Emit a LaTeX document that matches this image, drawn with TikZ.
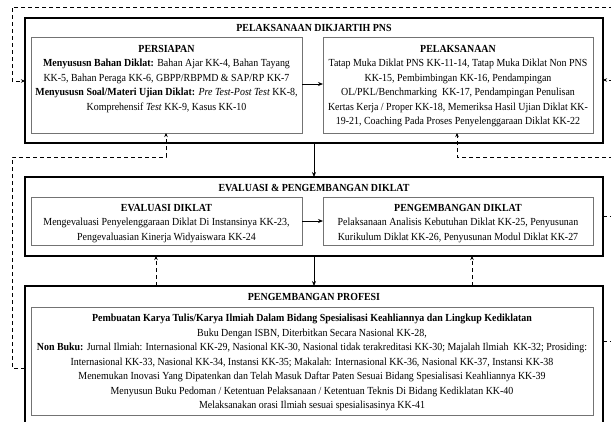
\documentclass[tikz,border=0pt]{standalone}
\usepackage{fontspec}
\setmainfont[FakeStretch=0.92]{Liberation Serif}
\usetikzlibrary{arrows.meta}
\begin{document}
\begin{tikzpicture}[x=1pt,y=-1pt,
  outerbox/.style={draw=black,line width=1.8pt,inner sep=0pt,outer sep=0pt,anchor=north west},
  innerbox/.style={draw=black!55,line width=0.8pt,inner sep=0pt,outer sep=0pt,anchor=north west},
  ttl/.style={font=\fontsize{10.8}{14.5}\selectfont\bfseries,inner sep=0pt,anchor=center},
  txt/.style={font=\fontsize{10.8}{14.5}\selectfont,align=center,inner sep=0pt,anchor=north},
  solidarr/.style={line width=0.8pt,-{Stealth[length=5pt,width=4pt]}},
  dasharr/.style={line width=0.8pt,dash pattern=on 4pt off 3pt,-{Stealth[length=4pt,width=3.5pt]}},
  dashln/.style={line width=0.8pt,dash pattern=on 4pt off 3pt}]
\useasboundingbox (0,0) rectangle (611,421);
\begin{scope}
\clip (0,0) rectangle (611,421);
% boxes
\node[outerbox,minimum width=578pt,minimum height=125pt] (b1) at (25,18) {};
\node[outerbox,minimum width=578pt,minimum height=79pt] (b2) at (25,177) {};
\node[outerbox,minimum width=578pt,minimum height=160pt] (b3) at (25,286) {};
\node[innerbox,minimum width=271pt,minimum height=96pt] (per) at (31,37) {};
\node[innerbox,minimum width=270pt,minimum height=96pt] (pel) at (323,37) {};
\node[innerbox,minimum width=271pt,minimum height=48pt] (eva) at (31,197) {};
\node[innerbox,minimum width=270pt,minimum height=48pt] (pen) at (323,197) {};
\node[innerbox,minimum width=562pt,minimum height=108pt] (pro) at (31,307) {};
% titles
\node[ttl] (t1) at (314,28) {PELAKSANAAN DIKJARTIH PNS};
\node[ttl] (t2) at (314,187.5) {EVALUASI \& PENGEMBANGAN DIKLAT};
\node[ttl] (t3) at (314,297) {PENGEMBANGAN PROFESI};
% texts
\node[txt] (perT) at (166.5,45) {\textbf{PERSIAPAN}\\
\textbf{Menyususn Bahan Diklat:} Bahan Ajar KK-4, Bahan Tayang\\
KK-5, Bahan Peraga KK-6, GBPP/RBPMD \& SAP/RP KK-7\\
\textbf{Menyususn Soal/Materi Ujian Diklat:} \textit{Pre Test-Post Test} KK-8,\\
Komprehensif \textit{Test} KK-9, Kasus KK-10};
\node[txt] (pelT) at (458,45) {\textbf{PELAKSANAAN}\\
Tatap Muka Diklat PNS KK-11-14, Tatap Muka Diklat Non PNS\\
KK-15, Pembimbingan KK-16, Pendampingan\\
OL/PKL/Benchmarking~~KK-17, Pendampingan Penulisan\\
Kertas Kerja / Proper KK-18, Memeriksa Hasil Ujian Diklat KK-\\
19-21, Coaching Pada Proses Penyelenggaraan Diklat KK-22};
\node[txt] (evaT) at (166.5,204) {\textbf{EVALUASI DIKLAT}\\
Mengevaluasi Penyelenggaraan Diklat Di Instansinya KK-23,\\
Pengevaluasian Kinerja Widyaiswara KK-24};
\node[txt] (penT) at (458,204) {\textbf{PENGEMBANGAN DIKLAT}\\
Pelaksanaan Analisis Kebutuhan Diklat KK-25, Penyusunan\\
Kurikulum Diklat KK-26, Penyusunan Modul Diklat KK-27};
\node[txt] (proT) at (312,314) {\textbf{Pembuatan Karya Tulis/Karya Ilmiah Dalam Bidang Spesialisasi Keahliannya dan Lingkup Kediklatan}\\
Buku Dengan ISBN, Diterbitkan Secara Nasional KK-28,\\
\textbf{Non Buku:} Jurnal Ilmiah: Internasional KK-29, Nasional KK-30, Nasional tidak terakreditasi KK-30; Majalah Ilmiah~~KK-32; Prosiding:\\
Internasional KK-33, Nasional KK-34, Instansi KK-35; Makalah: Internasional KK-36, Nasional KK-37, Instansi KK-38\\
Menemukan Inovasi Yang Dipatenkan dan Telah Masuk Daftar Paten Sesuai Bidang Spesialisasi Keahliannya KK-39\\
Menyusun Buku Pedoman / Ketentuan Pelaksanaan / Ketentuan Teknis Di Bidang Kediklatan KK-40\\
Melaksanakan orasi Ilmiah sesuai spesialisasinya KK-41};
% solid arrows
\draw[solidarr] (per.east |- 0,84) -- (pel.west |- 0,84);
\draw[solidarr] (eva.east |- 0,221) -- (pen.west |- 0,221);
\draw[solidarr] (b1.south -| 314,0) -- (b2.north -| 314,0);
\draw[solidarr] (b2.south -| 314,0) -- (b3.north -| 314,0);
% dashed connectors
\coordinate (rtop) at (620,7);
\coordinate (rb1) at (620,80);
\coordinate (rmid) at (620,157);
\coordinate (rb2) at (620,216);
\coordinate (rb3) at (620,341);
\draw[dasharr] (rtop) -- (12,7) -- (12,81) -- (b1.west |- 0,81);
\draw[dasharr] (rb1) -- (b1.east |- 0,80);
\draw[dasharr] (b3.west |- 0,368) -- (12,368) -- (12,157) -- (166,157) -- (per.south -| 166,0);
\draw[dasharr] (rmid) -- (457,157) -- (pel.south -| 457,0);
\draw[dashln] (b2.east |- 0,216) -- (rb2);
\draw[dashln] (b3.east |- 0,341) -- (rb3);
\draw[dasharr] (b3.north -| 156,0) -- (b2.south -| 156,0);
\draw[dasharr] (b3.north -| 472,0) -- (b2.south -| 472,0);
\end{scope}
\end{tikzpicture}
\end{document}
